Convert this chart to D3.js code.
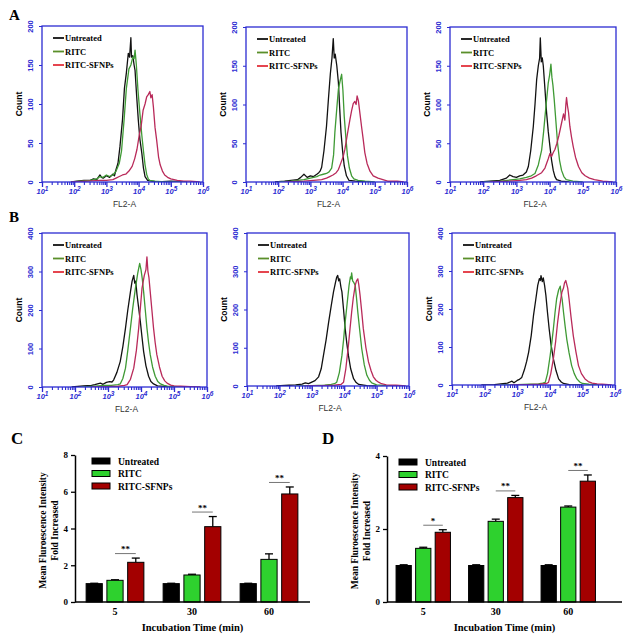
<!DOCTYPE html>
<html><head><meta charset="utf-8">
<script src="https://cdn.jsdelivr.net/npm/d3@7"></script>
<style>body{margin:0;background:#fff}svg{display:block}</style>
</head><body>
<svg id="c" width="629" height="641"></svg>
<script>
// ---------- Histogram data: [log10(FL2-A), count] ----------
const A1u=[[1.9,0],[2.1,1],[2.3,2],[2.5,2],[2.6,4],[2.7,3],[2.8,9],[2.85,6],[2.9,5],[3.0,8],[3.1,6],[3.2,10],[3.25,8],[3.3,16],[3.36,24],[3.42,45],[3.5,80],[3.56,120],[3.62,140],[3.68,165],[3.72,160],[3.76,185],[3.78,160],[3.82,162],[3.86,150],[3.89,143],[3.94,110],[3.99,80],[4.04,55],[4.1,37],[4.15,18],[4.2,7],[4.28,2],[4.4,1],[4.6,0],[5.0,1],[5.5,0]];
const A1r=[[1.9,0],[2.2,1],[2.5,2],[2.7,4],[2.8,7],[2.9,6],[3.0,9],[3.1,7],[3.2,9],[3.3,14],[3.4,24],[3.47,40],[3.55,80],[3.62,120],[3.7,145],[3.76,150],[3.82,160],[3.86,158],[3.89,169],[3.93,150],[3.98,118],[4.04,88],[4.1,60],[4.15,40],[4.2,22],[4.25,10],[4.3,4],[4.35,2],[4.5,1],[4.8,0],[5.5,0]];
const A1s=[[1.9,0],[2.4,1],[2.8,2],[3.0,2],[3.2,3],[3.3,5],[3.4,7],[3.5,9],[3.6,10],[3.7,14],[3.8,20],[3.88,30],[3.95,42],[4.02,60],[4.08,72],[4.14,92],[4.2,100],[4.25,109],[4.3,112],[4.35,116],[4.38,108],[4.42,112],[4.46,96],[4.51,70],[4.56,54],[4.62,32],[4.67,22],[4.74,14],[4.81,9],[4.9,6],[5.0,4],[5.1,3],[5.2,2],[5.4,1],[5.6,1],[5.9,0]];
const A2u=[[1.9,0],[2.2,1],[2.4,2],[2.6,3],[2.7,6],[2.8,10],[2.9,6],[3.0,8],[3.1,7],[3.2,10],[3.26,12],[3.3,14],[3.35,19],[3.42,40],[3.5,72],[3.56,107],[3.62,140],[3.67,160],[3.71,185],[3.74,160],[3.77,165],[3.82,150],[3.87,128],[3.91,95],[3.95,64],[4.0,40],[4.05,21],[4.12,8],[4.2,2],[4.4,1],[4.8,0]];
const A2r=[[2.0,0],[2.4,1],[2.8,3],[3.0,5],[3.2,7],[3.3,9],[3.4,10],[3.5,11],[3.58,13],[3.66,18],[3.72,35],[3.76,64],[3.82,95],[3.87,120],[3.92,130],[3.97,139],[4.01,118],[4.05,85],[4.1,58],[4.15,34],[4.21,18],[4.28,8],[4.35,4],[4.48,2],[4.7,1],[5.0,0]];
const A2s=[[2.2,0],[2.8,1],[3.1,2],[3.35,3],[3.5,5],[3.6,7],[3.7,9],[3.8,12],[3.87,16],[3.95,25],[4.02,33],[4.07,42],[4.15,62],[4.23,81],[4.28,92],[4.33,101],[4.38,104],[4.42,100],[4.45,111],[4.49,105],[4.54,88],[4.59,71],[4.64,55],[4.69,38],[4.76,24],[4.85,14],[4.95,8],[5.1,5],[5.25,3],[5.4,1],[5.7,1],[5.9,0]];
const A3u=[[1.9,0],[2.2,1],[2.5,2],[2.7,5],[2.8,9],[2.9,7],[3.0,6],[3.1,8],[3.2,9],[3.3,13],[3.36,20],[3.43,40],[3.51,72],[3.56,100],[3.61,132],[3.66,150],[3.7,160],[3.72,186],[3.75,155],[3.78,160],[3.81,150],[3.86,120],[3.91,89],[3.96,65],[4.01,46],[4.06,28],[4.11,15],[4.16,7],[4.21,3],[4.35,1],[4.6,0]];
const A3r=[[2.0,0],[2.5,1],[2.9,3],[3.1,4],[3.3,6],[3.45,8],[3.56,11],[3.66,22],[3.76,41],[3.82,65],[3.88,93],[3.93,115],[3.96,128],[4.0,138],[4.04,152],[4.07,135],[4.1,125],[4.14,106],[4.19,78],[4.24,50],[4.3,28],[4.36,15],[4.43,7],[4.5,3],[4.7,1],[5.0,0]];
const A3s=[[2.2,0],[2.8,1],[3.1,2],[3.3,3],[3.46,5],[3.6,8],[3.76,12],[3.86,18],[3.96,30],[4.01,37],[4.06,33],[4.11,38],[4.16,42],[4.22,50],[4.28,60],[4.33,70],[4.38,80],[4.42,88],[4.46,80],[4.49,100],[4.51,109],[4.54,98],[4.57,90],[4.61,72],[4.66,58],[4.71,46],[4.78,32],[4.87,20],[4.97,12],[5.07,8],[5.2,5],[5.35,3],[5.6,1],[5.9,0]];
const B1u=[[1.9,0],[2.26,3],[2.5,4],[2.6,6],[2.77,10],[2.85,7],[2.95,12],[3.05,14],[3.12,13],[3.17,18],[3.27,38],[3.37,66],[3.45,105],[3.53,153],[3.6,200],[3.68,247],[3.73,275],[3.78,290],[3.81,270],[3.84,275],[3.88,239],[3.93,205],[3.98,170],[4.03,130],[4.08,92],[4.15,55],[4.23,28],[4.3,14],[4.38,8],[4.5,3],[4.8,1],[5.2,0]];
const B1r=[[2.2,0],[2.6,2],[2.9,4],[3.1,4],[3.3,6],[3.37,8],[3.45,22],[3.53,49],[3.6,95],[3.68,153],[3.75,205],[3.83,256],[3.9,295],[3.96,321],[4.0,305],[4.04,280],[4.08,247],[4.13,200],[4.18,153],[4.23,115],[4.28,84],[4.35,52],[4.43,28],[4.51,14],[4.59,8],[4.7,4],[4.8,2],[5.1,1],[5.4,0]];
const B1s=[[2.5,0],[3.0,1],[3.3,2],[3.5,4],[3.58,6],[3.68,20],[3.78,49],[3.86,95],[3.93,153],[3.98,205],[4.03,256],[4.1,290],[4.15,305],[4.18,338],[4.21,300],[4.24,285],[4.28,247],[4.33,200],[4.38,153],[4.43,115],[4.48,84],[4.56,52],[4.64,28],[4.72,16],[4.79,10],[4.9,5],[5.0,3],[5.2,2],[5.5,1],[5.8,0]];
const B2u=[[1.9,0],[2.3,2],[2.5,3],[2.7,5],[2.8,8],[2.9,6],[3.0,10],[3.1,14],[3.21,24],[3.29,45],[3.36,80],[3.44,120],[3.52,167],[3.6,210],[3.67,246],[3.73,270],[3.77,285],[3.8,289],[3.83,275],[3.86,280],[3.9,258],[3.93,246],[3.98,200],[4.03,150],[4.08,112],[4.13,80],[4.2,45],[4.29,19],[4.37,9],[4.45,4],[4.7,1],[5.0,0]];
const B2r=[[2.5,0],[3.0,1],[3.4,2],[3.6,4],[3.7,6],[3.77,10],[3.85,35],[3.93,80],[3.98,120],[4.03,167],[4.09,215],[4.15,263],[4.19,285],[4.21,280],[4.23,296],[4.26,275],[4.3,270],[4.34,263],[4.38,230],[4.42,193],[4.48,145],[4.54,98],[4.62,55],[4.7,28],[4.78,15],[4.85,8],[5.0,3],[5.3,1],[5.6,0]];
const B2s=[[2.8,0],[3.3,1],[3.7,2],[3.9,4],[3.98,10],[4.05,45],[4.13,106],[4.18,150],[4.23,193],[4.28,230],[4.34,263],[4.38,275],[4.42,280],[4.45,265],[4.49,237],[4.54,195],[4.59,150],[4.67,100],[4.75,63],[4.83,40],[4.9,24],[4.98,15],[5.06,10],[5.15,6],[5.3,3],[5.45,2],[5.6,2],[5.9,0]];
const B3u=[[1.9,0],[2.3,1],[2.5,3],[2.7,5],[2.84,10],[2.9,6],[3.0,12],[3.07,15],[3.14,20],[3.22,40],[3.29,62],[3.35,86],[3.43,130],[3.5,183],[3.57,225],[3.63,262],[3.68,280],[3.71,275],[3.73,288],[3.77,272],[3.8,282],[3.84,262],[3.88,236],[3.93,190],[3.98,148],[4.04,105],[4.11,69],[4.19,38],[4.27,16],[4.35,8],[4.42,4],[4.6,1],[5.0,0]];
const B3r=[[2.5,0],[3.0,1],[3.4,2],[3.65,3],[3.78,5],[3.86,7],[3.93,30],[4.01,77],[4.06,110],[4.11,148],[4.16,190],[4.21,227],[4.27,250],[4.32,260],[4.35,240],[4.38,225],[4.42,192],[4.47,155],[4.52,121],[4.59,85],[4.67,51],[4.75,30],[4.83,16],[4.92,8],[5.0,4],[5.2,2],[5.5,0]];
const B3s=[[2.8,0],[3.3,1],[3.7,2],[3.9,4],[3.96,7],[4.03,30],[4.11,69],[4.18,115],[4.24,165],[4.3,205],[4.37,244],[4.42,255],[4.45,268],[4.49,275],[4.52,265],[4.55,255],[4.59,227],[4.65,180],[4.72,130],[4.8,88],[4.88,51],[4.97,30],[5.08,16],[5.18,9],[5.3,5],[5.45,3],[5.6,2],[5.9,0]];

const histTicksA=[0,50,100,150,200];
const histTicksB=[0,100,200,300,400];
const decades=[1,2,3,4,5,6];
const groupNames=['Untreated','RITC','RITC-SFNPs'];

// ---------- Bar chart data ----------
const timeLabels=['5','30','60'];
const cUntreated=[1.0,1.0,1.0],   cUntreatedErr=[0.02,0.02,0.02];
const cRitc=[1.18,1.47,2.32],     cRitcErr=[0.03,0.04,0.30];
const cSfnp=[2.16,4.10,5.88],     cSfnpErr=[0.23,0.55,0.38];
const cSig=['**','**','**'];
const cTicks=[0,2,4,6,8];
const dUntreated=[1.0,1.0,1.0],   dUntreatedErr=[0.02,0.02,0.02];
const dRitc=[1.47,2.21,2.60],     dRitcErr=[0.03,0.06,0.03];
const dSfnp=[1.91,2.86,3.31],     dSfnpErr=[0.07,0.06,0.17];
const dSig=['*','**','**'];
const dTicks=[0,2,4];

const svg=d3.select('#c');
const BLUE='#2b2bd2';
const curveCol=['#111111','#3f9a35','#b92a5a'];
const legCol=['#111111','#5a8f2a','#e2303c'];
const barCol=['#000000','#2ed12e','#a30000'];
const serif='"Liberation Serif","Times New Roman",serif';
const sans='"Liberation Sans",Arial,sans-serif';

const panels=[
 {x0:42,x1:203,y0:26,y1:182,ymax:200,ticks:histTicksA,s:[A1u,A1r,A1s]},
 {x0:246,x1:407,y0:27,y1:182,ymax:200,ticks:histTicksA,s:[A2u,A2r,A2s]},
 {x0:450,x1:616,y0:27,y1:182,ymax:200,ticks:histTicksA,s:[A3u,A3r,A3s]},
 {x0:42,x1:207,y0:233,y1:387,ymax:400,ticks:histTicksB,s:[B1u,B1r,B1s]},
 {x0:247,x1:409,y0:233,y1:386,ymax:400,ticks:histTicksB,s:[B2u,B2r,B2s]},
 {x0:452,x1:615,y0:233,y1:385,ymax:400,ticks:histTicksB,s:[B3u,B3r,B3s]}
];

panels.forEach((p,i)=>{
  const g=svg.append('g');
  const x=d3.scaleLog().domain([10,1e6]).range([p.x0,p.x1]);
  const y=d3.scaleLinear().domain([0,p.ymax]).range([p.y1,p.y0]);
  const cid='clip'+i;
  svg.append('clipPath').attr('id',cid).append('rect')
    .attr('x',p.x0).attr('y',p.y0).attr('width',p.x1-p.x0).attr('height',p.y1-p.y0);
  const line=d3.line().x(d=>x(Math.pow(10,d[0]))).y(d=>y(d[1]));
  const cg=g.append('g').attr('clip-path',`url(#${cid})`);
  [0,1,2].forEach(k=>{
    cg.append('path').datum(p.s[k]).attr('d',line).attr('fill','none')
      .attr('stroke',curveCol[k]).attr('stroke-width',1.3).attr('stroke-linejoin','round');
  });
  // frame
  g.append('rect').attr('x',p.x0).attr('y',p.y0).attr('width',p.x1-p.x0).attr('height',p.y1-p.y0)
    .attr('fill','none').attr('stroke',BLUE).attr('stroke-width',1.3);
  // minor ticks
  const minor=[];
  decades.slice(0,-1).forEach(dd=>{for(let m=2;m<=9;m++) minor.push(m*Math.pow(10,dd));});
  const xm=g.append('g').attr('transform',`translate(0,${p.y1})`)
    .call(d3.axisBottom(x).tickValues(minor).tickSize(3).tickFormat(''));
  xm.select('.domain').remove();
  xm.selectAll('line').attr('stroke',BLUE).attr('stroke-width',1.1);
  const xM=g.append('g').attr('transform',`translate(0,${p.y1})`)
    .call(d3.axisBottom(x).tickValues(decades.map(dd=>Math.pow(10,dd))).tickSize(5).tickFormat(''));
  xM.select('.domain').remove();
  xM.selectAll('line').attr('stroke',BLUE).attr('stroke-width',1.3);
  xM.selectAll('.tick').each(function(v){
    const t=d3.select(this).append('text').attr('y',12).attr('fill',BLUE)
      .attr('font-family',sans).attr('font-size',7.5).attr('font-style','italic').attr('font-weight','bold')
      .attr('text-anchor','middle');
    t.append('tspan').text('10');
    t.append('tspan').attr('dy',-3).attr('font-size',6.5).text(Math.round(Math.log10(v)));
  });
  // y axis
  const ya=g.append('g').attr('transform',`translate(${p.x0},0)`)
    .call(d3.axisLeft(y).tickValues(p.ticks).tickSize(3));
  ya.select('.domain').remove();
  ya.selectAll('line').attr('stroke',BLUE);
  ya.selectAll('text').attr('x',null).attr('dy',null)
    .attr('transform','translate(-9,0) rotate(-90)').attr('text-anchor','middle')
    .attr('fill',BLUE).attr('font-family',sans).attr('font-size',7.5).attr('font-weight','bold');
  // labels
  g.append('text').attr('transform',`translate(${p.x0-20},${(p.y0+p.y1)/2}) rotate(-90)`)
    .attr('text-anchor','middle').attr('font-family',sans).attr('font-weight','bold')
    .attr('font-size',8.5).text('Count');
  g.append('text').attr('x',(p.x0+p.x1)/2+2).attr('y',p.y1+25).attr('text-anchor','middle')
    .attr('font-family',sans).attr('font-size',8.5).attr('fill','#333').text('FL2-A');
  // legend
  groupNames.forEach((n,k)=>{
    const ly=p.y0+12+k*13.5;
    g.append('line').attr('x1',p.x0+11).attr('x2',p.x0+22).attr('y1',ly).attr('y2',ly)
      .attr('stroke',legCol[k]).attr('stroke-width',1.8);
    g.append('text').attr('x',p.x0+23).attr('y',ly+3).attr('font-family',serif)
      .attr('font-weight','bold').attr('font-size',8.5).text(n);
  });
});

// panel letters
[['A',9,20,15],['B',9,222,15],['C',11,444,17],['D',322,444,17]].forEach(l=>{
  svg.append('text').attr('x',l[1]).attr('y',l[2]).attr('font-family',serif)
    .attr('font-weight','bold').attr('font-size',l[3]).text(l[0]);
});

function barChart(cfg){
  const g=svg.append('g');
  const y=d3.scaleLinear().domain([0,cfg.ymax]).range([cfg.yb,cfg.yt]);
  const x0=d3.scaleBand().domain(timeLabels).range(cfg.xr).paddingInner(0.25).paddingOuter(0.125);
  const x1=d3.scaleBand().domain([0,1,2]).range([0,x0.bandwidth()]).paddingInner(0.22);
  const vals=[cfg.u,cfg.r,cfg.s], errs=[cfg.ue,cfg.re,cfg.se];
  timeLabels.forEach((t,i)=>{
    [0,1,2].forEach(k=>{
      const bx=x0(t)+x1(k), bw=x1.bandwidth(), v=vals[k][i], e=errs[k][i];
      const cx=bx+bw/2;
      g.append('line').attr('x1',cx).attr('x2',cx).attr('y1',y(v)).attr('y2',y(v+e))
        .attr('stroke','#000').attr('stroke-width',1.3);
      g.append('line').attr('x1',cx-4).attr('x2',cx+4).attr('y1',y(v+e)).attr('y2',y(v+e))
        .attr('stroke','#000').attr('stroke-width',1.3);
      g.append('rect').attr('x',bx).attr('y',y(v)).attr('width',bw).attr('height',y(0)-y(v))
        .attr('fill',barCol[k]).attr('stroke','#000').attr('stroke-width',1);
    });
    // significance
    const top=y(vals[2][i]+errs[2][i])-4.5;
    const xa=x0(t)+x1(1)+x1.bandwidth()/2, xb=x0(t)+x1(2)+x1.bandwidth()/2;
    g.append('line').attr('x1',xa).attr('x2',xb).attr('y1',top).attr('y2',top)
      .attr('stroke','#666').attr('stroke-width',0.9);
    g.append('text').attr('x',(xa+xb)/2).attr('y',top-1.5).attr('text-anchor','middle')
      .attr('font-family',serif).attr('font-weight','bold').attr('font-size',9).text(cfg.sig[i]);
  });
  // axes
  const ya=g.append('g').attr('transform',`translate(${cfg.xa},0)`)
    .call(d3.axisLeft(y).tickValues(cfg.ticks).tickSize(4).tickSizeOuter(0).tickFormat(d3.format('d')));
  ya.select('.domain').attr('stroke-width',1.5);
  ya.selectAll('line').attr('stroke-width',1.3);
  ya.selectAll('text').attr('font-family',serif).attr('font-weight','bold').attr('font-size',9);
  g.append('line').attr('x1',cfg.xa).attr('x2',cfg.xend).attr('y1',cfg.yb).attr('y2',cfg.yb)
    .attr('stroke','#000').attr('stroke-width',1.5);
  const xa=g.append('g').attr('transform',`translate(0,${cfg.yb})`)
    .call(d3.axisBottom(x0).tickSize(0).tickPadding(6));
  xa.select('.domain').remove();
  xa.selectAll('text').attr('font-family',serif).attr('font-weight','bold').attr('font-size',10);
  // axis titles
  g.append('text').attr('x',(cfg.xa+cfg.xend)/2).attr('y',cfg.yb+29).attr('text-anchor','middle')
    .attr('font-family',serif).attr('font-weight','bold').attr('font-size',10.5).text('Incubation Time (min)');
  const yc=(cfg.yb+cfg.yt)/2+2;
  g.append('text').attr('transform',`translate(${cfg.xa-29},${yc}) rotate(-90)`).attr('text-anchor','middle')
    .attr('font-family',serif).attr('font-weight','bold').attr('font-size',9.5).text('Mean Fluroescence Intensity');
  g.append('text').attr('transform',`translate(${cfg.xa-17},${yc}) rotate(-90)`).attr('text-anchor','middle')
    .attr('font-family',serif).attr('font-weight','bold').attr('font-size',9.5).text('Fold Increased');
  // legend
  groupNames.forEach((n,k)=>{
    const ly=cfg.yt+6+k*12.5;
    g.append('rect').attr('x',cfg.xa+cfg.lg).attr('y',ly-3).attr('width',18).attr('height',6)
      .attr('fill',barCol[k]).attr('stroke','#000').attr('stroke-width',1);
    g.append('text').attr('x',cfg.xa+cfg.lg+26).attr('y',ly+3.5).attr('font-family',serif)
      .attr('font-weight','bold').attr('font-size',9.5).text(n);
  });
}

barChart({xa:75,xend:310,xr:[76.5,307.5],yb:602,yt:455,ymax:8,ticks:cTicks,lg:17,
  u:cUntreated,ue:cUntreatedErr,r:cRitc,re:cRitcErr,s:cSfnp,se:cSfnpErr,sig:cSig});
barChart({xa:387,xend:622,xr:[387,604.5],yb:602,yt:456,ymax:4,ticks:dTicks,lg:12,
  u:dUntreated,ue:dUntreatedErr,r:dRitc,re:dRitcErr,s:dSfnp,se:dSfnpErr,sig:dSig});
</script>
</body></html>
